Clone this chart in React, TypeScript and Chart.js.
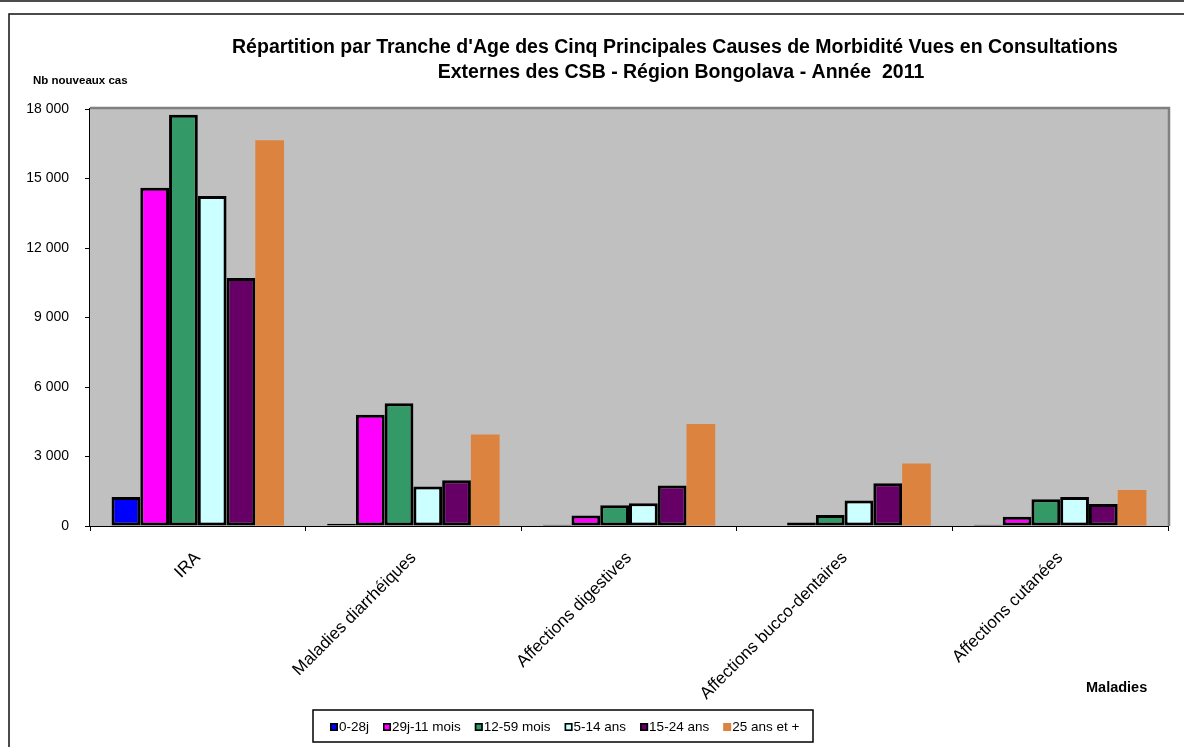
import React, { useEffect, useRef } from "react";
import { Chart, registerables } from "chart.js";

Chart.register(...registerables);

// ---------- data ----------
const categories = [
  "IRA",
  "Maladies diarrhéiques",
  "Affections digestives",
  "Affections bucco-dentaires",
  "Affections cutanées",
];
const seriesNames = ["0-28j", "29j-11 mois", "12-59 mois", "5-14 ans", "15-24 ans", "25 ans et +"];
const values0to28j = [1250, 100, 50, 20, 50];
const values29jTo11mois = [14600, 4800, 450, 150, 400];
const values12to59mois = [17750, 5300, 900, 480, 1150];
const values5to14ans = [14250, 1700, 980, 1100, 1250];
const values15to24ans = [10700, 1975, 1750, 1850, 950];
const values25ansPlus = [16650, 3950, 4400, 2700, 1550];
const seriesColors = ["#0000FF", "#FF00FF", "#339966", "#CCFFFF", "#660066", "#DC843F"];
const seriesBorders = [3, 3, 3, 3, 3, 0];
const yTickValues = [0, 3000, 6000, 9000, 12000, 15000, 18000];
const titleLines = [
  "Répartition par Tranche d'Age des Cinq Principales Causes de Morbidité Vues en Consultations",
  "Externes des CSB - Région Bongolava - Année  2011",
];
const yAxisTitle = "Nb nouveaux cas";
const xAxisTitle = "Maladies";

const FONT = "'Liberation Sans', Arial, sans-serif";

function fmt(v: number): string {
  return String(v).replace(/\B(?=(\d{3})+(?!\d))/g, " ");
}

const decorPlugin = {
  id: "decor",
  beforeDatasetsDraw(chart: any) {
    const { ctx, chartArea } = chart;
    ctx.save();
    ctx.fillStyle = "#C0C0C0";
    ctx.fillRect(chartArea.left, chartArea.top, chartArea.right - chartArea.left, chartArea.bottom - chartArea.top);
    ctx.restore();
  },
  afterDraw(chart: any) {
    const { ctx, chartArea } = chart;
    ctx.save();
    // plot top/right border (gray)
    ctx.strokeStyle = "#808080";
    ctx.lineWidth = 2.5;
    ctx.beginPath();
    ctx.moveTo(chartArea.left, chartArea.top - 1);
    ctx.lineTo(chartArea.right + 1, chartArea.top - 1);
    ctx.lineTo(chartArea.right + 1, chartArea.bottom);
    ctx.stroke();

    // outer frames
    ctx.strokeStyle = "#111";
    ctx.lineWidth = 1.5;
    ctx.beginPath();
    ctx.moveTo(0, 1);
    ctx.lineTo(1184, 1);
    ctx.stroke();
    ctx.beginPath();
    ctx.moveTo(9, 760);
    ctx.lineTo(9, 14);
    ctx.lineTo(1190, 14);
    ctx.stroke();

    // title
    ctx.fillStyle = "#000";
    ctx.textAlign = "center";
    ctx.textBaseline = "alphabetic";
    ctx.font = `bold 19.5px ${FONT}`;
    ctx.fillText(titleLines[0], 675, 53);
    ctx.fillText(titleLines[1], 681, 78);

    // axis titles
    ctx.textAlign = "left";
    ctx.font = `bold 11.5px ${FONT}`;
    ctx.fillText(yAxisTitle, 33, 84);
    ctx.font = `bold 14.5px ${FONT}`;
    ctx.fillText(xAxisTitle, 1086, 692);

    // legend
    const ds = chart.data.datasets;
    ctx.font = `13.5px ${FONT}`;
    ctx.textBaseline = "middle";
    const boxL = 313, boxT = 710, boxR = 813, boxB = 742;
    ctx.fillStyle = "#fff";
    ctx.fillRect(boxL, boxT, boxR - boxL, boxB - boxT);
    ctx.strokeStyle = "#000";
    ctx.lineWidth = 1.5;
    ctx.strokeRect(boxL, boxT, boxR - boxL, boxB - boxT);
    let x = 330;
    const cy = 727;
    for (let i = 0; i < ds.length; i++) {
      const d = ds[i];
      ctx.fillStyle = d.backgroundColor;
      ctx.fillRect(x, cy - 4, 8, 8);
      if (d.borderWidth > 0) {
        ctx.strokeStyle = "#000";
        ctx.lineWidth = 1.6;
        ctx.strokeRect(x + 0.8, cy - 3.2, 6.4, 6.4);
      }
      ctx.fillStyle = "#000";
      ctx.fillText(d.label, x + 9, cy + 0.5);
      x += 9 + ctx.measureText(d.label).width + 14;
    }
    ctx.restore();
  },
};

export default function App() {
  const ref = useRef<HTMLCanvasElement | null>(null);
  useEffect(() => {
    if (!ref.current) return;
    const seriesValues = [
      values0to28j,
      values29jTo11mois,
      values12to59mois,
      values5to14ans,
      values15to24ans,
      values25ansPlus,
    ];
    const chart = new Chart(ref.current, {
      type: "bar",
      data: {
        labels: categories,
        datasets: seriesNames.map((name, i) => ({
          label: name,
          data: seriesValues[i],
          backgroundColor: seriesColors[i],
          borderColor: "#000000",
          borderWidth: seriesBorders[i],
          borderSkipped: false,
          categoryPercentage: 0.8,
          barPercentage: 1.0,
        })),
      },
      options: {
        responsive: false,
        animation: false,
        devicePixelRatio: 1,
        layout: { padding: { left: 0, top: 109, right: 16, bottom: 0 } },
        plugins: {
          legend: { display: false },
          title: { display: false },
          tooltip: { enabled: false },
        },
        scales: {
          x: {
            afterFit: (s: any) => {
              s.height = 221;
            },
            grid: {
              offset: true,
              drawOnChartArea: false,
              drawTicks: true,
              tickLength: 5,
              color: "#000",
              lineWidth: 1,
            },
            border: { display: true, color: "#000", width: 2 },
            ticks: {
              autoSkip: false,
              minRotation: 45,
              maxRotation: 45,
              padding: 17,
              color: "#000",
              font: { family: FONT, size: 17 },
            },
          },
          y: {
            min: 0,
            max: 18000,
            afterFit: (s: any) => {
              s.width = 90;
            },
            afterBuildTicks: (s: any) => {
              s.ticks = yTickValues.map((v) => ({ value: v }));
            },
            grid: {
              drawOnChartArea: false,
              drawTicks: true,
              tickLength: 5,
              color: "#000",
              lineWidth: 1,
            },
            border: { display: true, color: "#000", width: 1.5 },
            ticks: {
              padding: 16,
              color: "#000",
              font: { family: FONT, size: 14 },
              callback: (v: any) => fmt(Number(v)),
            },
          },
        },
      },
      plugins: [decorPlugin],
    });
    return () => chart.destroy();
  }, []);
  return (
    <div style={{ position: "fixed", left: 0, top: 0, width: 1184, height: 747, background: "#fff" }}>
      <canvas ref={ref} width={1184} height={747} style={{ display: "block", width: 1184, height: 747 }} />
    </div>
  );
}
